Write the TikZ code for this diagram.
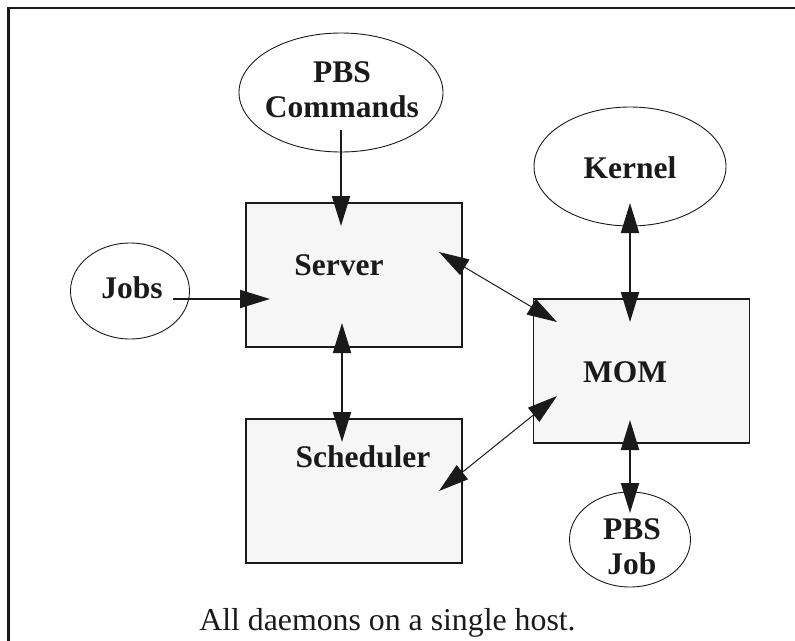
\documentclass[tikz,border=0pt]{standalone}
\usepackage{fontspec}
\setmainfont{Liberation Serif}
\usetikzlibrary{shapes.geometric,arrows.meta}
\definecolor{boxfill}{HTML}{F6F6F6}
\definecolor{ink}{HTML}{1A1A1A}
\begin{document}
\begin{tikzpicture}[x=1pt,y=-1pt,
  daemon/.style={draw=ink,line width=1.8pt,fill=boxfill,inner sep=0pt,minimum width=216pt,minimum height=144pt},
  outer/.style={draw=ink,line width=0.9pt,ellipse,inner sep=0pt},
  lbl/.style={font=\fontsize{31.5}{35}\selectfont\bfseries,text=ink,align=center,anchor=base,inner sep=0pt},
  thick arrow/.style={draw=ink,line width=2pt,-{Triangle[length=30pt,width=18pt]}},
  thick dbl/.style={draw=ink,line width=2pt,{Triangle[length=30pt,width=18pt]}-{Triangle[length=30pt,width=18pt]}},
  thin dbl/.style={draw=ink,line width=1pt,{Triangle[length=30pt,width=18pt]}-{Triangle[length=30pt,width=18pt]}}
]
\useasboundingbox (0,0) rectangle (795,640);
\fill[white] (0,0) rectangle (795,640);
% frame (right and bottom edges lie outside the picture)
\draw[ink,line width=2.6pt] (8.5,660) -- (8.5,8) -- (810,8);

% boxes
\node[daemon] (server) at (354,275) {};
\node[daemon] (sched) at (354,491) {};
\node[daemon] (mom) at (641.5,371) {};

% ellipses
\node[outer,minimum width=204pt,minimum height=119pt] (cmds) at (341,92.5) {};
\node[outer,minimum width=119pt,minimum height=96pt] (jobs) at (130,291) {};
\node[outer,minimum width=192pt,minimum height=119pt] (kernel) at (630,166.5) {};
\node[outer,minimum width=121pt,minimum height=95pt] (pbsjob) at (630,539.5) {};

% labels (base anchor of a two-line label is the last line's baseline)
\node[lbl] (tcmds) at (342,117) {PBS\\Commands};
\node[lbl] (tjobs) at (132,298) {Jobs};
\node[lbl] (tkernel) at (630,178) {Kernel};
\node[lbl] (tserver) at (339,275) {Server};
\node[lbl] (tsched) at (363,467) {Scheduler};
\node[lbl] (tmom) at (625,382) {MOM};
\node[lbl] (tpbsjob) at (632,574) {PBS\\Job};
\node[font=\fontsize{31.8}{35}\selectfont,text=ink,anchor=base,inner sep=0pt] (caption) at (387.5,630) {All daemons on a single host.};

% connector end points
\coordinate (cmdsA) at (341,130);
\coordinate (serverTop) at (341,226);
\coordinate (jobsA) at (173,299);
\coordinate (serverLeft) at (270,299);
\coordinate (serverBot) at (342,323);
\coordinate (schedTop) at (342,442);
\coordinate (serverRight) at (439,252);
\coordinate (momUL) at (557,322);
\coordinate (momLL) at (557,396);
\coordinate (schedRight) at (439,491);
\coordinate (kernelBot) at (630,203);
\coordinate (momTop) at (630,322);
\coordinate (momBot) at (630,420);
\coordinate (pbsjobTop) at (630,513);

% connectors
\draw[thick arrow] (cmdsA) -- (serverTop);
\draw[thick arrow] (jobsA) -- (serverLeft);
\draw[thick dbl] (serverBot) -- (schedTop);
\draw[thin dbl] (serverRight) -- (momUL);
\draw[thin dbl] (schedRight) -- (momLL);
\draw[thick dbl] (kernelBot) -- (momTop);
\draw[thick dbl] (momBot) -- (pbsjobTop);
\end{tikzpicture}
\end{document}
